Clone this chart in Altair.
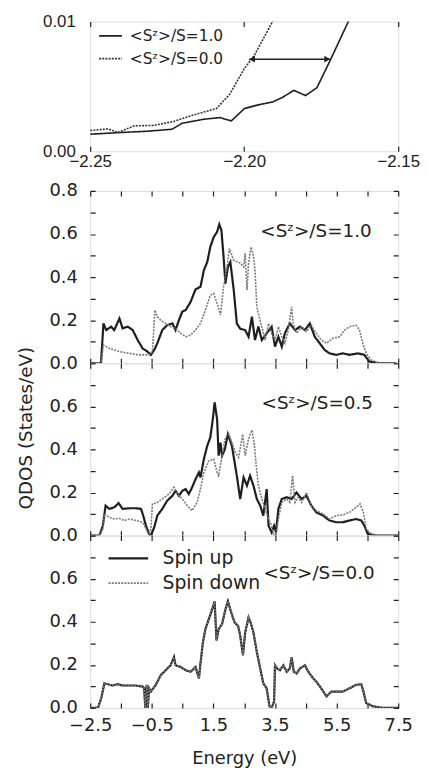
import altair as alt
import pandas as pd

# ---------------- data ----------------
# Inset: low-energy band edge
inset_E_10 = [-2.25, -2.24, -2.2314, -2.2234, -2.2202, -2.2132, -2.2079, -2.2042, -2.1999,
              -2.1951, -2.1908, -2.1876, -2.1839, -2.1801, -2.1764, -2.1721, -2.1662, -2.163]
inset_Q_10 = [0.00132, 0.00145, 0.00155, 0.0017, 0.00216, 0.00247, 0.0026, 0.00234, 0.0033,
              0.0036, 0.0038, 0.00415, 0.0047, 0.0043, 0.0049, 0.0070, 0.0100, 0.0111]
inset_E_00 = [-2.25, -2.2442, -2.2411, -2.2357, -2.2293, -2.2229, -2.2165, -2.2090, -2.2047,
              -2.1999, -2.1967, -2.1908, -2.1885]
inset_Q_00 = [0.0016, 0.00173, 0.00145, 0.00196, 0.0020, 0.0023, 0.0028, 0.0033, 0.0044,
              0.0064, 0.0074, 0.0100, 0.0109]
inset_cases = ["<S\u1dbb>/S=1.0", "<S\u1dbb>/S=0.0"]
arrow_x = [-2.1984]
arrow_x2 = [-2.1721]
arrow_y = [0.0071]

# Panel 1: <Sz>/S = 1.0
E1_up = [-2.5, -2.2, -2.15, -2.07, -1.98, -1.82, -1.72, -1.55, -1.45, -1.28,
         -1.12, -0.96, -0.80, -0.64, -0.53, -0.42, -0.32, -0.16, 0.0, 0.17,
         0.27, 0.38, 0.49, 0.60, 0.76, 0.92, 1.08, 1.19, 1.30, 1.40,
         1.51, 1.62, 1.69, 1.76, 1.83, 1.89, 1.97, 2.05, 2.16, 2.26,
         2.37, 2.53, 2.64, 2.75, 2.85, 2.96, 3.07, 3.23, 3.39, 3.50,
         3.61, 3.72, 3.82, 3.98, 4.15, 4.31, 4.47, 4.63, 4.79, 4.95,
         5.11, 5.27, 5.49, 5.70, 5.92, 6.19, 6.40, 6.56, 6.89, 7.42]
Q1_up = [0, 0, 0.0, 0.185, 0.154, 0.17, 0.154, 0.208, 0.162, 0.17,
         0.154, 0.108, 0.069, 0.054, 0.039, 0.062, 0.093, 0.154, 0.177, 0.185,
         0.154, 0.20, 0.24, 0.247, 0.285, 0.343, 0.355, 0.432, 0.47, 0.54,
         0.586, 0.61, 0.645, 0.617, 0.494, 0.37, 0.447, 0.47, 0.34, 0.185,
         0.16, 0.154, 0.123, 0.216, 0.108, 0.17, 0.108, 0.139, 0.17, 0.077,
         0.123, 0.077, 0.139, 0.185, 0.154, 0.17, 0.154, 0.185, 0.123, 0.093,
         0.062, 0.046, 0.039, 0.046, 0.039, 0.046, 0.039, 0.008, 0, 0]
E1_dn = [-2.5, -2.15, -2.07, -1.88, -1.55, -1.23, -0.91, -0.59, -0.48, -0.40,
         -0.32, -0.21, -0.05, 0.11, 0.27, 0.44, 0.60, 0.76, 0.92, 1.08,
         1.24, 1.40, 1.51, 1.62, 1.73, 1.83, 1.94, 2.02, 2.16, 2.37,
         2.48, 2.53, 2.59, 2.64, 2.72, 2.80, 2.85, 2.91, 2.96, 3.07,
         3.18, 3.29, 3.39, 3.50, 3.61, 3.72, 3.82, 3.93, 4.04, 4.09,
         4.20, 4.36, 4.52, 4.68, 4.84, 5.00, 5.17, 5.38, 5.60, 5.76,
         5.92, 6.13, 6.24, 6.35, 6.46, 6.62, 6.89, 7.5]
Q1_dn = [0, 0, 0.085, 0.069, 0.054, 0.046, 0.039, 0.039, 0.054, 0.247,
         0.216, 0.20, 0.185, 0.17, 0.162, 0.139, 0.123, 0.131, 0.154, 0.185,
         0.247, 0.316, 0.324, 0.278, 0.224, 0.355, 0.447, 0.532, 0.478, 0.465,
         0.447, 0.51, 0.34, 0.463, 0.54, 0.50, 0.432, 0.262, 0.23, 0.17,
         0.108, 0.185, 0.139, 0.108, 0.17, 0.123, 0.093, 0.154, 0.262, 0.185,
         0.139, 0.17, 0.147, 0.177, 0.139, 0.108, 0.093, 0.116, 0.123, 0.154,
         0.17, 0.177, 0.154, 0.093, 0.046, 0.015, 0, 0]

# Panel 2: <Sz>/S = 0.5
E2_up = [-2.5, -2.2, -2.09, -2.0, -1.88, -1.72, -1.58, -1.45, -1.23, -1.02,
         -0.85, -0.78, -0.69, -0.59, -0.53, -0.42, -0.32, -0.16, 0.0, 0.17,
         0.27, 0.38, 0.49, 0.60, 0.70, 0.81, 0.92, 1.03, 1.08, 1.19,
         1.30, 1.40, 1.48, 1.54, 1.62, 1.67, 1.73, 1.78, 1.87, 1.97,
         2.10, 2.26, 2.37, 2.48, 2.59, 2.69, 2.80, 2.91, 3.02, 3.12,
         3.23, 3.29, 3.39, 3.47, 3.53, 3.61, 3.72, 3.88, 4.04, 4.20,
         4.36, 4.52, 4.68, 4.84, 5.06, 5.27, 5.49, 5.70, 5.92, 6.13,
         6.30, 6.40, 6.51, 6.78, 7.5]
Q2_up = [0, 0, 0.046, 0.139, 0.124, 0.131, 0.151, 0.124, 0.127, 0.127,
         0.124, 0.093, 0.046, 0.008, 0, 0.039, 0.093, 0.124, 0.162, 0.185,
         0.208, 0.185, 0.208, 0.216, 0.193, 0.224, 0.262, 0.293, 0.27, 0.355,
         0.417, 0.456, 0.54, 0.618, 0.54, 0.371, 0.432, 0.371, 0.40, 0.471,
         0.417, 0.278, 0.17, 0.27, 0.232, 0.278, 0.232, 0.17, 0.139, 0.093,
         0.216, 0.046, 0.015, 0.046, 0.015, 0.124, 0.17, 0.178, 0.17, 0.20,
         0.17, 0.185, 0.139, 0.108, 0.093, 0.07, 0.062, 0.062, 0.07, 0.077,
         0.07, 0.046, 0.008, 0, 0]
E2_dn = [-2.5, -2.2, -2.09, -2.04, -1.88, -1.72, -1.55, -1.39, -1.23, -1.02,
         -0.80, -0.69, -0.59, -0.53, -0.48, -0.32, -0.16, 0.06, 0.22, 0.33,
         0.49, 0.65, 0.81, 0.97, 1.08, 1.19, 1.35, 1.51, 1.62, 1.67,
         1.78, 1.89, 2.0, 2.10, 2.21, 2.32, 2.45, 2.53, 2.64, 2.75,
         2.82, 2.89, 2.96, 3.07, 3.18, 3.29, 3.39, 3.45, 3.53, 3.61,
         3.72, 3.88, 3.98, 4.07, 4.15, 4.25, 4.36, 4.52, 4.68, 4.84,
         5.06, 5.27, 5.49, 5.70, 5.92, 6.13, 6.26, 6.37, 6.46, 6.62,
         6.89, 7.5]
Q2_dn = [0, 0, 0.031, 0.10, 0.085, 0.077, 0.08, 0.07, 0.077, 0.07,
         0.062, 0.031, 0, 0.031, 0.147, 0.154, 0.17, 0.193, 0.224, 0.193,
         0.17, 0.139, 0.116, 0.154, 0.216, 0.293, 0.347, 0.355, 0.293, 0.278,
         0.371, 0.456, 0.471, 0.432, 0.386, 0.363, 0.47, 0.371, 0.448, 0.49,
         0.432, 0.324, 0.232, 0.17, 0.124, 0.077, 0.046, 0, 0.008, 0.077,
         0.154, 0.17, 0.154, 0.278, 0.154, 0.178, 0.154, 0.20, 0.139, 0.116,
         0.10, 0.077, 0.093, 0.096, 0.108, 0.131, 0.147, 0.108, 0.031, 0.008,
         0, 0]

# Panel 3: <Sz>/S = 0.0 (spin up and spin down coincide)
E3 = [-2.5, -2.25, -2.14, -2.04, -1.93, -1.77, -1.61, -1.45, -1.23, -1.02,
      -0.80, -0.75, -0.71, -0.67, -0.63, -0.59, -0.53, -0.37, -0.21, -0.05,
      0.11, 0.22, 0.27, 0.44, 0.60, 0.76, 0.92, 1.03, 1.08, 1.16,
      1.24, 1.35, 1.46, 1.54, 1.60, 1.67, 1.78, 1.89, 1.97, 2.08,
      2.19, 2.30, 2.37, 2.46, 2.53, 2.64, 2.71, 2.80, 2.91, 3.02,
      3.12, 3.23, 3.32, 3.39, 3.47, 3.50, 3.57, 3.66, 3.77, 3.88,
      3.98, 4.04, 4.11, 4.20, 4.31, 4.47, 4.58, 4.74, 4.84, 5.00,
      5.17, 5.33, 5.49, 5.70, 5.92, 6.13, 6.30, 6.37, 6.46, 6.67,
      7.0, 7.5]
Q3 = [0, 0, 0.046, 0.114, 0.11, 0.104, 0.11, 0.104, 0.104, 0.104,
      0.099, 0.091, 0, 0.107, 0, 0.091, 0.076, 0.107, 0.152, 0.175,
      0.198, 0.236, 0.198, 0.19, 0.175, 0.168, 0.19, 0.137, 0.206, 0.305,
      0.366, 0.412, 0.457, 0.495, 0.313, 0.366, 0.389, 0.457, 0.495, 0.442,
      0.396, 0.381, 0.335, 0.244, 0.35, 0.42, 0.396, 0.35, 0.259, 0.183,
      0.114, 0.091, 0.008, 0, 0.03, 0.198, 0.183, 0.175, 0.198, 0.168,
      0.183, 0.236, 0.168, 0.16, 0.183, 0.198, 0.168, 0.137, 0.122, 0.091,
      0.053, 0.076, 0.076, 0.076, 0.091, 0.107, 0.11, 0.076, 0.023, 0.008,
      0, 0]

spins = ["Spin up", "Spin down"]
panel_labels = ["<S\u1dbb>/S=1.0", "<S\u1dbb>/S=0.5", "<S\u1dbb>/S=0.0"]
label_E = [4.83, 4.87, 4.93]
label_Q = [0.614, 0.614, 0.628]

x_ticks = [-2.5, -1.5, -0.5, 0.5, 1.5, 2.5, 3.5, 4.5, 5.5, 6.5, 7.5]
y_ticks = [0.0, 0.1, 0.2, 0.3, 0.4, 0.5, 0.6, 0.7, 0.8]
inset_x_ticks = [-2.25, -2.20, -2.15]
inset_y_ticks = [0.0, 0.01]

# ---------------- style ----------------
FONT = "DejaVu Sans"
INK = "#222222"
W, H = 311, 174
IW, IH = 311, 131


def spin_df(E_up, Q_up, E_dn, Q_dn):
    a = pd.DataFrame({"E": E_up, "Q": Q_up, "spin": spins[0]})
    b = pd.DataFrame({"E": E_dn, "Q": Q_dn, "spin": spins[1]})
    return pd.concat([a, b], ignore_index=True)


def panel(df, idx, show_x, show_legend, y_title, show_top):
    xkw = dict(values=x_ticks, grid=True, gridDash=[5, H - 10, 5, 0], gridColor=INK,
               gridWidth=1.2, ticks=False, domain=False, labelFlush=False)
    if show_x:
        xkw.update(labelExpr="round(datum.value + 2.5) % 2 == 0 ? format(datum.value, '.1f') : ''",
                   labelFont=FONT, labelFontSize=18, labelPadding=9, labelColor=INK,
                   title="Energy (eV)", titleFont=FONT, titleFontSize=18,
                   titleFontWeight="normal", titleColor=INK, titlePadding=15)
    else:
        xkw.update(labels=False, title="")
    top_max = "8" if show_top else "7"
    ykw = dict(values=y_ticks, grid=True, gridDash=[5, W - 10, 5, 0], gridColor=INK,
               gridWidth=1.2, ticks=False, domain=False, labelFlush=False,
               labelExpr=("round(datum.value * 10) % 2 == 0 && round(datum.value * 10) <= " + top_max +
                          " ? format(datum.value, '.1f') : ''"),
               labelFont=FONT, labelFontSize=18, labelPadding=13, labelColor=INK)
    if y_title:
        ykw.update(title="QDOS (States/eV)", titleFont=FONT, titleFontSize=18.5,
                   titleFontWeight="normal", titleColor=INK, titlePadding=14, titleY=65)
    else:
        ykw.update(title="")

    xs = alt.Scale(domain=[-2.5, 7.5], nice=False, zero=False)
    ys = alt.Scale(domain=[0, 0.8], nice=False)
    cscale = alt.Scale(domain=spins, range=["#1e1e1e", "#7a7a7a"])
    dscale = alt.Scale(domain=spins, range=[[1, 0], [2, 1.2]])
    if show_legend:
        leg = alt.Legend(orient="none", legendX=17, legendY=12, title=None,
                         symbolType="stroke", symbolSize=1600, symbolStrokeWidth=2,
                         labelFont=FONT, labelFontSize=19, labelColor=INK,
                         labelOffset=13, clipHeight=22, rowPadding=3)
        color = alt.Color("spin:N", scale=cscale, legend=leg)
        dash = alt.StrokeDash("spin:N", scale=dscale, legend=leg)
    else:
        color = alt.Color("spin:N", scale=cscale, legend=None)
        dash = alt.StrokeDash("spin:N", scale=dscale, legend=None)

    lines = alt.Chart(df).mark_line(clip=True).encode(
        x=alt.X("E:Q", scale=xs, axis=alt.Axis(**xkw)),
        y=alt.Y("Q:Q", scale=ys, axis=alt.Axis(**ykw)),
        color=color,
        strokeDash=dash,
        strokeWidth=alt.StrokeWidth("spin:N", scale=alt.Scale(domain=spins, range=[2.2, 1.6]), legend=None),
    )
    lab = pd.DataFrame({"E": [label_E[idx]], "Q": [label_Q[idx]], "t": [panel_labels[idx]]})
    txt = alt.Chart(lab).mark_text(font=FONT, fontSize=18.5, color=INK, align="center",
                                   baseline="middle").encode(
        x=alt.X("E:Q", scale=xs, axis=alt.Axis(**xkw)),
        y=alt.Y("Q:Q", scale=ys, axis=alt.Axis(**ykw)),
        text="t:N")
    return alt.layer(lines, txt).properties(width=W, height=H)


p1 = panel(spin_df(E1_up, Q1_up, E1_dn, Q1_dn), 0, False, False, False, True)
p2 = panel(spin_df(E2_up, Q2_up, E2_dn, Q2_dn), 1, False, False, True, False)
p3 = panel(spin_df(E3, Q3, E3, Q3), 2, True, True, False, False)

# ---------------- inset ----------------
inset_df = pd.concat([
    pd.DataFrame({"E": inset_E_10, "Q": inset_Q_10, "case": inset_cases[0]}),
    pd.DataFrame({"E": inset_E_00, "Q": inset_Q_00, "case": inset_cases[1]}),
], ignore_index=True)

ileg = alt.Legend(orient="none", legendX=8, legendY=2, title=None, symbolType="stroke",
                  symbolSize=529, symbolStrokeWidth=1.8, labelFont=FONT, labelFontSize=15.5,
                  labelColor=INK, labelOffset=7, rowPadding=2)
ix = alt.X("E:Q", scale=alt.Scale(domain=[-2.25, -2.15], nice=False, zero=False),
           axis=alt.Axis(values=inset_x_ticks, format=".2f", grid=True, gridDash=[5, IH - 10, 5, 0],
                         gridColor=INK, gridWidth=1.2, ticks=False, domain=False, labelFlush=False,
                         labelFont="Liberation Sans", labelFontSize=17, labelColor=INK,
                         labelPadding=2, title=""))
iy = alt.Y("Q:Q", scale=alt.Scale(domain=[0, 0.01], nice=False),
           axis=alt.Axis(values=inset_y_ticks, format=".2f", grid=False, ticks=False, domain=False,
                         labelFlush=False, labelFont="Liberation Sans", labelFontSize=17,
                         labelColor=INK, labelPadding=15, title=""))
inset_lines = alt.Chart(inset_df).mark_line(clip=True, strokeWidth=1.6).encode(
    x=ix, y=iy,
    color=alt.Color("case:N", scale=alt.Scale(domain=inset_cases, range=["#1e1e1e", "#333333"]), legend=ileg),
    strokeDash=alt.StrokeDash("case:N", scale=alt.Scale(domain=inset_cases, range=[[1, 0], [2, 1.2]]), legend=ileg),
)
arrow_df = pd.DataFrame({"x": arrow_x, "x2": arrow_x2, "y": arrow_y})
arrow = alt.Chart(arrow_df).mark_rule(color=INK, strokeWidth=1.4).encode(
    x=alt.X("x:Q"), x2="x2:Q", y=alt.Y("y:Q"))
head_l = alt.Chart(arrow_df).mark_point(shape="triangle-left", filled=True, size=45, color=INK,
                                        opacity=1, xOffset=3).encode(x="x:Q", y="y:Q")
head_r = alt.Chart(arrow_df).mark_point(shape="triangle-right", filled=True, size=45, color=INK,
                                        opacity=1, xOffset=-3).encode(x="x2:Q", y="y:Q")
inset = alt.layer(inset_lines, arrow, head_l, head_r).properties(width=IW, height=IH)

res = dict(x="independent", y="independent", color="independent",
           strokeDash="independent", strokeWidth="independent")
main = alt.vconcat(p1, p2, p3, spacing=0, bounds="flush").resolve_scale(**res)
chart = alt.vconcat(inset, main, spacing=40, bounds="flush").resolve_scale(**res).properties(
    padding={"left": 7, "top": 0, "right": 0, "bottom": 0}
).configure_view(stroke=INK, strokeWidth=1.5).configure(background="white")

chart.save("out.html", embed_options={"renderer": "svg", "actions": False})
